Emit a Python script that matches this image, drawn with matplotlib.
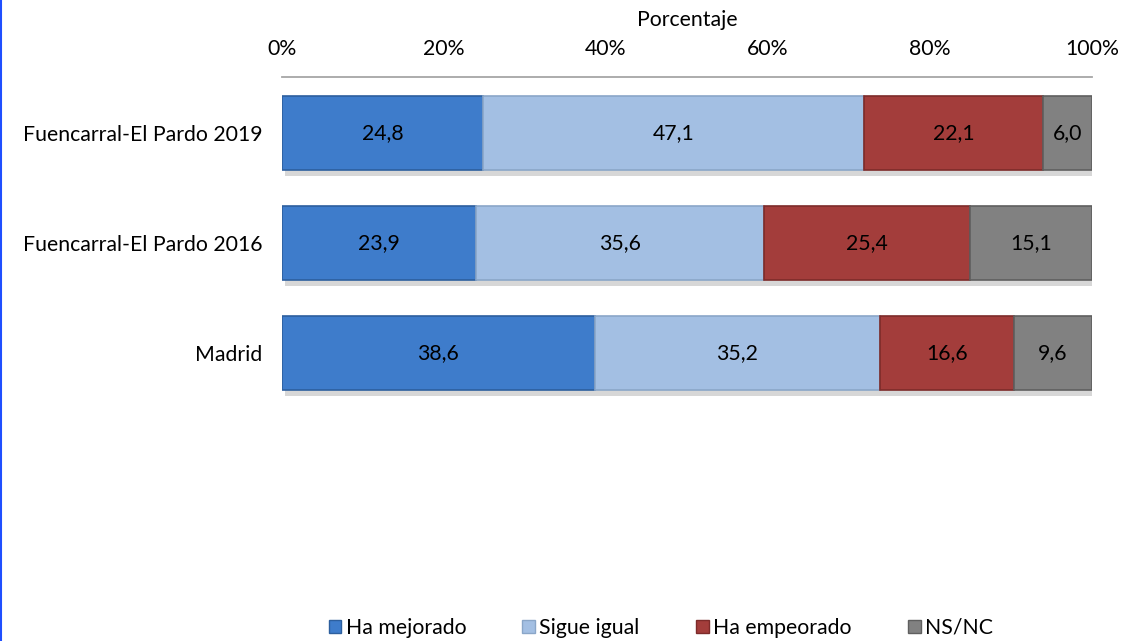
import matplotlib
matplotlib.use("Agg")
import matplotlib.pyplot as plt
import matplotlib.patheffects as pe
from matplotlib.patches import Patch

categories = ["Fuencarral-El Pardo 2019", "Fuencarral-El Pardo 2016", "Madrid"]
series_names = ["Ha mejorado", "Sigue igual", "Ha empeorado", "NS/NC"]
values = {
    "Ha mejorado": [24.8, 23.9, 38.6],
    "Sigue igual": [47.1, 35.6, 35.2],
    "Ha empeorado": [22.1, 25.4, 16.6],
    "NS/NC": [6.0, 15.1, 9.6],
}
colors = ["#3e7ccb", "#a3bfe3", "#a33d3b", "#818181"]
edge_colors = ["#2d5f9e", "#8aa6c8", "#7d2b2a", "#5f5f5f"]
xticks = [0, 20, 40, 60, 80, 100]
xtick_labels = ["0%", "20%", "40%", "60%", "80%", "100%"]

plt.rcParams['font.family'] = ['Lato', 'DejaVu Sans']
FS = 15.3

fig = plt.figure(figsize=(11.45, 6.41), dpi=100)
ax = fig.add_axes([282/1145, 1 - 410/641, (1092-282)/1145, 333/641])

ypos = list(range(len(categories)))
left = [0.0] * len(categories)
shadow = [pe.SimplePatchShadow(offset=(2, -4), shadow_rgbFace="#b0b0b0", alpha=0.5), pe.Normal()]
for name, c, ec in zip(series_names, colors, edge_colors):
    vals = values[name]
    bars = ax.barh(ypos, vals, left=left, height=0.68, color=c, edgecolor=ec,
                   linewidth=1.2, path_effects=shadow, zorder=2)
    for b, v in zip(bars, vals):
        ax.text(b.get_x() + b.get_width() / 2, b.get_y() + b.get_height() / 2,
                f"{v:.1f}".replace(".", ","), ha="center", va="center",
                fontsize=FS, color="black", zorder=3)
    left = [l + v for l, v in zip(left, vals)]

ax.set_xlim(0, 100)
ax.set_ylim(2.518, -0.509)
ax.set_yticks(ypos)
ax.set_yticklabels(categories, fontsize=FS)
ax.tick_params(axis="y", length=0, pad=14)
ax.xaxis.set_ticks_position("top")
ax.xaxis.set_label_position("top")
ax.set_xticks(xticks)
ax.set_xticklabels(xtick_labels, fontsize=FS)
ax.tick_params(axis="x", length=0, pad=13)
ax.set_xlabel("Porcentaje", fontsize=FS, labelpad=9)
for s in ["right", "bottom", "left"]:
    ax.spines[s].set_visible(False)
ax.spines["top"].set_color("#a6a6a6")
ax.spines["top"].set_linewidth(1.3)

handles = [Patch(facecolor=c, edgecolor=ec) for c, ec in zip(colors, edge_colors)]
fig.legend(handles, series_names, loc="center", bbox_to_anchor=(0.577, 1 - 628/641),
           ncol=4, frameon=False, fontsize=FS, handlelength=0.6, handleheight=0.6,
           handletextpad=0.2, columnspacing=2.65)

fig.add_artist(plt.Line2D([1/1145, 1/1145], [0, 1], color="#1f4fff", linewidth=1.5))

fig.savefig("out.png", dpi=100)
